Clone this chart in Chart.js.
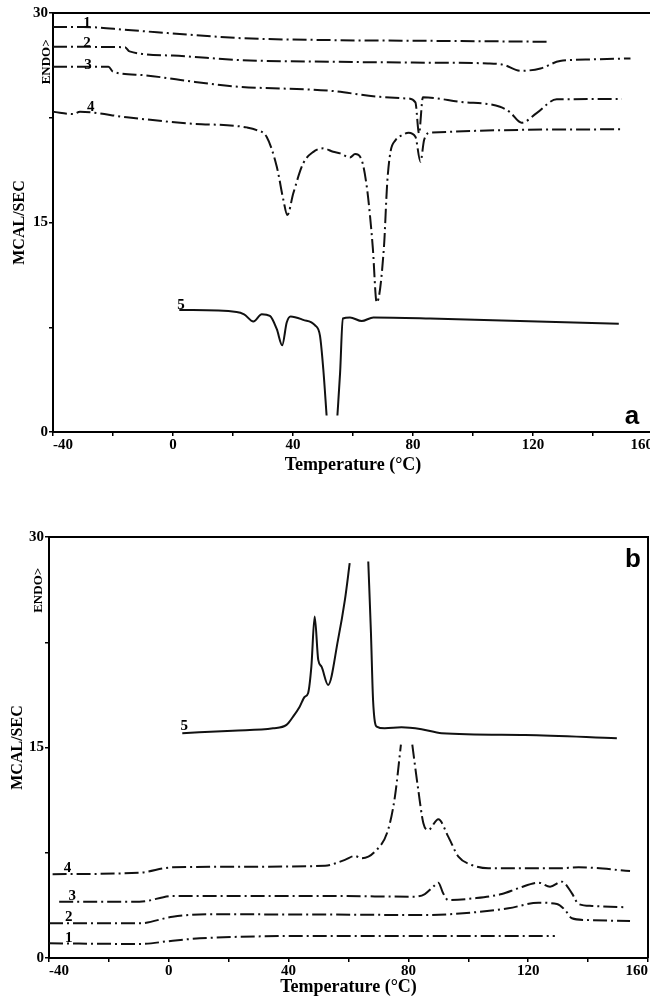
<!DOCTYPE html>
<html>
<head>
<meta charset="utf-8">
<script src="https://cdn.jsdelivr.net/npm/chart.js@4/dist/chart.umd.min.js"></script>
<style>
html, body { margin: 0; padding: 0; background: #fff; }
#wrap { position: relative; width: 650px; height: 1001px; overflow: hidden; }
#chartA { position: absolute; left: 0; top: 0; }
#chartB { position: absolute; left: 0; top: 500px; }
</style>
</head>
<body>
<div id="wrap">
  <canvas id="chartA" width="656" height="480"></canvas>
  <canvas id="chartB" width="656" height="501"></canvas>
</div>
<script>
"use strict";

// ---- panel a : temperature (°C) / heat flow (mcal/s) ----
const tempA1 = [-40, -30, -15, 5, 22.5, 52.5, 90, 125.5];
const valA1  = [29.0, 29.0, 28.78, 28.45, 28.2, 28.06, 28.0, 27.94];

const tempA2 = [-40, -16, -14.5, 0, 22.5, 52.5, 80, 105, 110, 116, 122.5, 129, 140, 152.5];
const valA2  = [27.58, 27.55, 27.25, 26.95, 26.63, 26.51, 26.45, 26.39, 26.3, 25.86, 26.03, 26.56, 26.68, 26.75];

const tempA3 = [-40, -21.5, -20, -10, 2.5, 20, 52.5, 69, 78, 80.8, 82, 83.3, 95.7, 109, 112.3, 116.2, 121.2, 127.9, 149.6];
const valA3  = [26.15, 26.15, 25.8, 25.55, 25.2, 24.75, 24.43, 24.0, 23.88, 23.6, 21.38, 23.96, 23.64, 23.29, 22.9, 22.14, 22.83, 23.82, 23.84];

const tempA4 = [-40, -33.2, -31, -15.4, 4.6, 24.6, 27.9, 31.2, 34.6, 36.8, 38.1, 40.1, 43.4, 46.8, 50.1, 53.4, 55.7,
                59, 60.7, 62.9, 64.6, 65.7, 66.6, 67.9, 70.3, 71.4, 72.5, 74.2, 76.4, 78.5, 80.8, 82.5, 83.7, 85.8, 149.2];
const valA4  = [22.93, 22.76, 22.93, 22.53, 22.1, 21.81, 21.62, 21.14, 18.99, 16.61, 15.53, 17.09, 19.23, 20.06, 20.31, 20.06, 19.95,
                19.66, 19.9, 19.47, 17.56, 15.41, 13.2, 9.27, 13.2, 17.82, 20.06, 20.9, 21.26, 21.43, 21.14, 19.35, 20.9, 21.43, 21.67];

const tempA5 = [2.1, 21.2, 23.7, 26.8, 29.6, 32.3, 34.6, 36.4, 37.9, 39.2, 43.4, 47.3, 49, 50.1, 51.2, 53, 54.8, 55.7, 56.6,
                59, 62.9, 66.8, 85.7, 148.6];
const valA5  = [8.74, 8.6, 8.43, 7.91, 8.43, 8.31, 7.36, 6.21, 7.84, 8.27, 8.03, 7.65, 6.88, 4.49, 1.18, null, 1.18, 4.25, 8.13,
                8.2, 7.95, 8.2, 8.13, 7.75];

// ---- panel b ----
const tempB1 = [-40, -9.8, 1.3, 10.3, 52.1, 128.9];
const valB1  = [1.05, 1.0, 1.23, 1.4, 1.57, 1.57];

const tempB2 = [-40, -9.8, 1.3, 12.5, 52, 85.5, 102.2, 113.4, 123.4, 129.6, 132.3, 134.6, 139, 154];
const valB2  = [2.47, 2.47, 2.94, 3.11, 3.1, 3.06, 3.26, 3.54, 3.94, 3.85, 3.42, 2.83, 2.71, 2.64];

const tempB3 = [-36.6, -9.8, 1.3, 52.1, 82.2, 85.5, 88.3, 90, 91.6, 93.3, 102.2, 111.2, 116.7, 123.4, 127.3, 131.2, 134.6, 136.8, 141.3, 152.9];
const valB3  = [4.01, 4.01, 4.42, 4.42, 4.37, 4.56, 5.08, 5.37, 4.61, 4.13, 4.26, 4.56, 4.97, 5.37, 5.08, 5.44, 4.61, 3.85, 3.71, 3.61];

const tempB4 = [-38.8, -9.8, 1.3, 32.5, 52.2, 58.8, 62.1, 64.3, 68.8, 73.2, 75.5, 77.5, 79.4, 81.3, 83.3, 85, 86.6, 90, 93.3,
                96.7, 101.1, 106.7, 130.1, 136.8, 154];
const valB4  = [5.97, 6.08, 6.46, 6.51, 6.58, 6.99, 7.27, 7.11, 7.58, 9.12, 11.5, 15.2, null, 15.2, 11.97, 9.6, 9.12, 9.89, 8.65,
                7.22, 6.63, 6.39, 6.39, 6.46, 6.2];

const tempB5 = [4.5, 21.4, 34.8, 39.3, 41.5, 43.7, 45.4, 46.5, 47.6, 48.7, 49.9, 51, 53.2, 56.5, 58.8, 60.4, 63.5,
                66.6, 67.5, 68.2, 69.4, 72.1, 77.7, 84.4, 91.1, 119, 149.6];
const valB5  = [16.02, 16.2, 16.37, 16.61, 17.2, 17.91, 18.62, 18.87, 20.76, 24.33, 21.24, 20.76, 19.46, 22.67, 25.52, 28.13, null,
                28.25, 23.14, 18.39, 16.49, 16.37, 16.44, 16.3, 16.02, 15.89, 15.66];

const curveNames = ["1", "2", "3", "4", "5"];
const xTicks = [-40, 0, 40, 80, 120, 160];
const yTicks = [0, 15, 30];

function points(temps, vals) {
    return temps.map((t, i) => ({ x: t, y: vals[i] }));
}

function curve(temps, vals, dashed) {
    return {
        data: points(temps, vals),
        borderColor: "#111",
        borderWidth: 2,
        borderDash: dashed ? [14, 4, 2, 4] : [],
        pointRadius: 0,
        cubicInterpolationMode: "monotone",
        spanGaps: false,
        fill: false
    };
}

// frame, curve numbers, ENDO> and panel letter
const deco = {
    id: "deco",
    afterDraw(chart, args, o) {
        const { ctx, chartArea: a, scales: { x, y } } = chart;
        ctx.save();
        ctx.strokeStyle = "#000";
        ctx.lineWidth = 2;
        ctx.beginPath();
        ctx.moveTo(a.left, a.top);
        ctx.lineTo(a.right, a.top);
        ctx.lineTo(a.right, a.bottom);
        ctx.stroke();

        ctx.fillStyle = "#000";
        ctx.textAlign = "center";
        ctx.textBaseline = "middle";
        ctx.font = "bold 15px 'Liberation Serif'";
        o.tags.forEach((t, i) => {
            ctx.fillText(curveNames[i], x.getPixelForValue(t[0]), y.getPixelForValue(t[1]));
        });

        ctx.font = "bold 26px 'Liberation Sans'";
        ctx.fillText(o.letter, x.getPixelForValue(o.letterAt[0]), y.getPixelForValue(o.letterAt[1]));

        ctx.translate(a.left - o.endoGap, y.getPixelForValue(o.endoAt));
        ctx.rotate(-Math.PI / 2);
        ctx.font = "bold 13px 'Liberation Serif'";
        ctx.fillText("ENDO>", 0, 0);
        ctx.restore();
    }
};

function makeChart(canvas, datasets, lay, deco_opts) {
    const tickFont = { family: "'Liberation Serif'", size: 15, weight: "bold" };
    return new Chart(canvas.getContext("2d"), {
        type: "line",
        data: { datasets: datasets },
        plugins: [deco],
        options: {
            responsive: false,
            animation: false,
            devicePixelRatio: 1,
            layout: { padding: { top: lay.top, right: lay.right, bottom: 0, left: 0 } },
            plugins: {
                legend: { display: false },
                tooltip: { enabled: false },
                deco: deco_opts
            },
            scales: {
                x: {
                    type: "linear",
                    min: -40,
                    max: 160,
                    afterFit: s => { s.height = lay.xh; },
                    ticks: {
                        stepSize: 20,
                        align: "inner",
                        padding: 0,
                        maxRotation: 0,
                        autoSkip: false,
                        color: "#000",
                        font: tickFont,
                        callback: v => xTicks.includes(v) ? String(v) : ""
                    },
                    grid: { drawOnChartArea: false, tickLength: 4, color: "#000", lineWidth: 1.5 },
                    border: { display: true, color: "#000", width: 2 },
                    title: {
                        display: true,
                        text: "Temperature (°C)",
                        color: "#000",
                        font: { family: "'Liberation Serif'", size: 18, weight: "bold" },
                        padding: { top: 0, bottom: lay.titleBottom }
                    }
                },
                y: {
                    min: 0,
                    max: 30,
                    afterFit: s => { s.width = lay.yw; },
                    ticks: {
                        stepSize: 7.5,
                        padding: 1,
                        color: "#000",
                        font: tickFont,
                        callback: v => yTicks.includes(v) ? String(v) : ""
                    },
                    grid: { drawOnChartArea: false, tickLength: 4, color: "#000", lineWidth: 1.5 },
                    border: { display: true, color: "#000", width: 2 },
                    title: {
                        display: true,
                        text: "MCAL/SEC",
                        color: "#000",
                        font: { family: "'Liberation Serif'", size: 16, weight: "bold" },
                        padding: { top: lay.titleLeft, bottom: 0 }
                    }
                }
            }
        }
    });
}

makeChart(document.getElementById("chartA"), [
    curve(tempA1, valA1, true),
    curve(tempA2, valA2, true),
    curve(tempA3, valA3, true),
    curve(tempA4, valA4, true),
    curve(tempA5, valA5, false)
], { top: 13, right: 3, xh: 48, yw: 53, titleBottom: 4, titleLeft: 10 }, {
    tags: [[-28.7, 29.28], [-28.7, 27.87], [-28.3, 26.27], [-27.4, 23.29], [2.7, 9.05]],
    letter: "a",
    letterAt: [153, 1.1],
    endoAt: 26.5,
    endoGap: 6.5
});

makeChart(document.getElementById("chartB"), [
    curve(tempB1, valB1, true),
    curve(tempB2, valB2, true),
    curve(tempB3, valB3, true),
    curve(tempB4, valB4, true),
    curve(tempB5, valB5, false)
], { top: 37, right: 8, xh: 43, yw: 49, titleBottom: 3, titleLeft: 8 }, {
    tags: [[-33.4, 1.4], [-33.4, 2.9], [-32.2, 4.42], [-33.8, 6.39], [5.2, 16.54]],
    letter: "b",
    letterAt: [155, 28.4],
    endoAt: 26.2,
    endoGap: 10.5
});
</script>
</body>
</html>
